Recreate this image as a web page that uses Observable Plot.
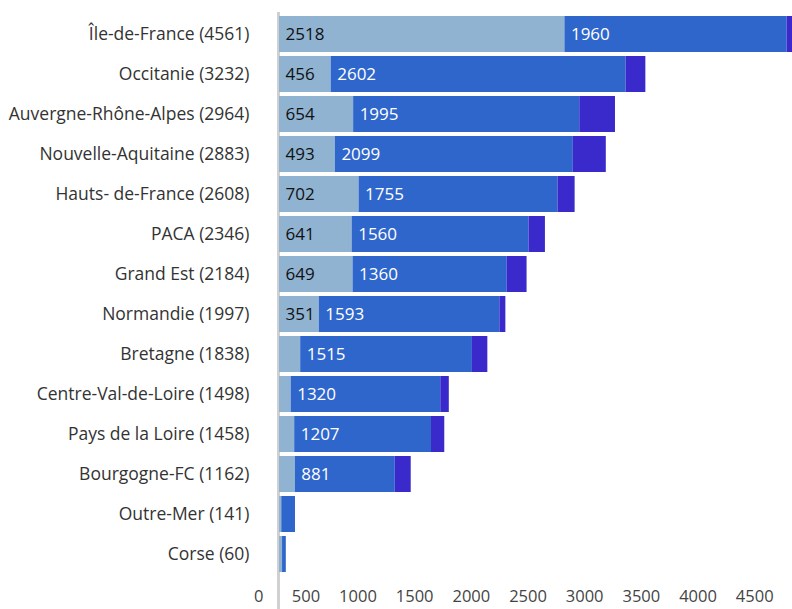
<!DOCTYPE html>
<html>
<head>
<meta charset="utf-8">
<script src="https://cdn.jsdelivr.net/npm/d3@7"></script>
<script src="https://cdn.jsdelivr.net/npm/@observablehq/plot@0.6"></script>
<style>
  html, body { margin: 0; padding: 0; background: #fff; }
  svg { display: block; }
</style>
</head>
<body>
<div id="chart"></div>
<script>
const regions = ["Île-de-France", "Occitanie", "Auvergne-Rhône-Alpes", "Nouvelle-Aquitaine",
  "Hauts- de-France", "PACA", "Grand Est", "Normandie", "Bretagne", "Centre-Val-de-Loire",
  "Pays de la Loire", "Bourgogne-FC", "Outre-Mer", "Corse"];
const totals = [4561, 3232, 2964, 2883, 2608, 2346, 2184, 1997, 1838, 1498, 1458, 1162, 141, 60];
const seg1 = [2518, 456, 654, 493, 702, 641, 649, 351, 187, 103, 134, 140, 20, 27];
const seg2 = [1960, 2602, 1995, 2099, 1755, 1560, 1360, 1593, 1515, 1320, 1207, 881, 121, 33];
const seg3 = [83, 174, 315, 291, 151, 145, 175, 53, 136, 75, 117, 141, 0, 0];
const xTicks = [0, 500, 1000, 1500, 2000, 2500, 3000, 3500, 4000, 4500];
const segNames = ["a", "b", "c"];
const segColors = ["#8fb3d1", "#2f66cc", "#3a2acb"];
const labelColors = ["#111111", "#ffffff"];

const labelOf = new Map(regions.map((r, i) => [r, `${r} (${totals[i]})`]));

const rows = [];
regions.forEach((r, i) => {
  let start = 0;
  [seg1[i], seg2[i], seg3[i]].forEach((v, k) => {
    rows.push({region: r, seg: segNames[k], k, x1: start, x2: start + v, value: v});
    start += v;
  });
});
const textRows = rows.filter(d => d.k < 2 && d.value >= 300);

const font = "'Open Sans', sans-serif";

const chart = Plot.plot({
  width: 792,
  height: 609,
  marginLeft: 279,
  marginRight: -4,
  marginTop: 12,
  marginBottom: 33,
  style: {fontFamily: font, background: "#fff"},
  x: {domain: [0, d3.max(totals)], axis: null},
  y: {domain: regions, padding: 0.1, axis: null},
  color: {domain: segNames, range: segColors},
  marks: [
    Plot.ruleX([0], {stroke: "#d0d0d0", strokeWidth: 3, dx: -1, insetBottom: -33}),
    Plot.barX(rows, {y: "region", x1: "x1", x2: "x2", fill: "seg"}),
    Plot.text(textRows, {
      y: "region", x: "x1", text: d => String(d.value), textAnchor: "start", dx: 6,
      fill: d => labelColors[d.k], fontSize: 17, fontFamily: font
    }),
    Plot.axisY({
      tickSize: 0, tickPadding: 30, fontSize: 17.5, fill: "#333", label: null,
      tickFormat: d => labelOf.get(d), fontFamily: font
    }),
    Plot.axisX({
      ticks: xTicks, tickSize: 0, tickPadding: 14, textAnchor: "end", dx: -16, label: null,
      fontSize: 16.5, fill: "#444", fontFamily: font, tickFormat: d => String(d)
    })
  ]
});
document.getElementById("chart").appendChild(chart);
</script>
</body>
</html>
